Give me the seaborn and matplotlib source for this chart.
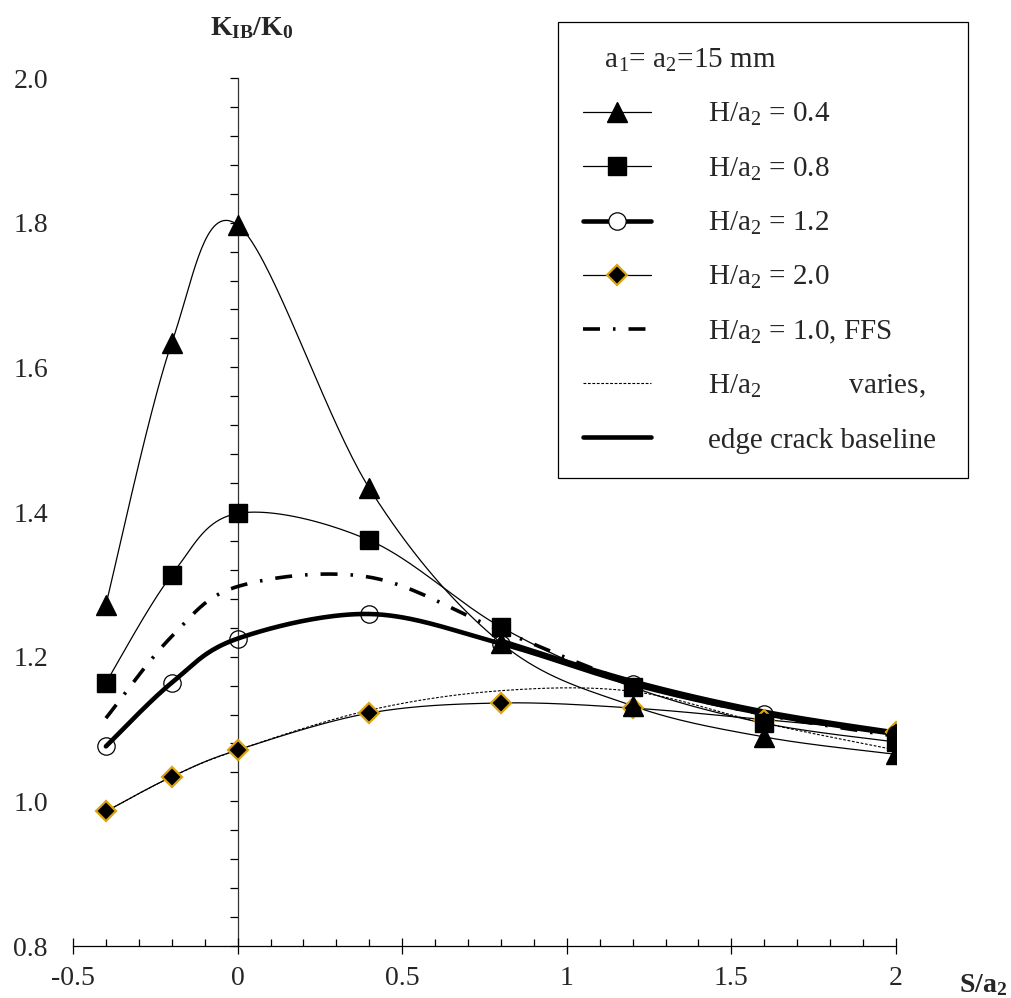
import matplotlib
matplotlib.use("Agg")

import numpy as np
import matplotlib.pyplot as plt
from matplotlib.lines import Line2D
from matplotlib.ticker import MultipleLocator, FuncFormatter
import seaborn as sns

# data
s_a2 = [-0.4, -0.2, 0.0, 0.4, 0.8, 1.2, 1.6, 2.0]
k_h04 = [1.272, 1.634, 1.797, 1.433, 1.219, 1.132, 1.089, 1.065]
k_h08 = [1.164, 1.313, 1.398, 1.361, 1.241, 1.158, 1.108, 1.082]
k_h12 = [1.076, 1.164, 1.225, 1.259, 1.218, 1.162, 1.121, 1.093]
k_h20 = [0.986, 1.034, 1.071, 1.122, 1.136, 1.129, 1.113, 1.096]
k_ffs = [1.115, 1.228, 1.297, 1.310, 1.236, 1.164, 1.120, 1.090]
k_varies = [0.986, 1.034, 1.071, 1.126, 1.153, 1.152, 1.108, 1.071]
s_base = [0.8, 1.2, 1.6, 2.0]
k_base = [1.222, 1.166, 1.124, 1.095]

sns.set_theme(style="white")
plt.rcParams["font.family"] = ["Liberation Serif", "DejaVu Serif"]
plt.rcParams["mathtext.fontset"] = "custom"
plt.rcParams["mathtext.rm"] = "Liberation Serif"
plt.rcParams["mathtext.it"] = "Liberation Serif:italic"
plt.rcParams["mathtext.bf"] = "Liberation Serif:bold"

# excel style smoothing (catmull-rom bezier in screen-ish units)
SX, SY = 330.0, 723.0


def smooth(x, y, n=40):
    p = np.column_stack([np.asarray(x) * SX, np.asarray(y) * SY])
    p = np.vstack([p[0], p, p[-1]])
    out = []
    for i in range(1, len(p) - 2):
        p0, p1, p2, p3 = p[i - 1], p[i], p[i + 1], p[i + 2]
        c1 = p1 + (p2 - p0) / 6.0
        c2 = p2 - (p3 - p1) / 6.0
        t = np.linspace(0, 1, n)[:, None]
        seg = ((1 - t) ** 3) * p1 + 3 * ((1 - t) ** 2) * t * c1 + 3 * (1 - t) * t ** 2 * c2 + t ** 3 * p2
        out.append(seg if i == 1 else seg[1:])
    out = np.vstack(out)
    return out[:, 0] / SX, out[:, 1] / SY


fig = plt.figure(figsize=(10.11, 9.98), dpi=100)
ax = fig.add_axes([0.0722, 0.0521, 0.814, 0.8697])

gold = "#DBA40E"
ffs_dash = (0, (4.7, 3.6, 0.7, 3.6))

curves = [
    (s_a2, k_varies, dict(color="black", lw=0.8, linestyle=(0, (2.5, 1.5)))),
    (s_a2, k_h20, dict(color="black", lw=0.9)),
    (s_a2, k_h04, dict(color="black", lw=0.9)),
    (s_a2, k_h08, dict(color="black", lw=0.9)),
    (s_base, k_base, dict(color="black", lw=3.3)),
    (s_a2, k_h12, dict(color="black", lw=3.3)),
    (s_a2, k_ffs, dict(color="black", lw=2.6, linestyle=ffs_dash)),
]
for xs, ys, kw in curves:
    cx, cy = smooth(xs, ys)
    sns.lineplot(x=cx, y=cy, sort=False, estimator=None, ax=ax, **kw)

ax.plot(s_a2, k_h20, linestyle="none", marker="D", ms=10, mfc="black", mec=gold, mew=1.6, zorder=5)
ax.plot(s_a2, k_h04, linestyle="none", marker="^", ms=14.5, color="black", zorder=5)
ax.plot(s_a2, k_h08, linestyle="none", marker="s", ms=13.5, color="black", zorder=5)
ax.plot(s_a2, k_h12, linestyle="none", marker="o", ms=12.5, mfc="none", mec="black", mew=0.9, zorder=6)

ax.set_xlim(-0.5, 2.0)
ax.set_ylim(0.8, 2.0)

for side in ["top", "right", "left"]:
    ax.spines[side].set_visible(False)
ax.spines["bottom"].set_color("black")
ax.spines["bottom"].set_linewidth(0.9)

ax.xaxis.set_major_locator(MultipleLocator(0.5))
ax.xaxis.set_minor_locator(MultipleLocator(0.1))
ax.xaxis.set_major_formatter(FuncFormatter(lambda v, p: f"{v:g}"))
ax.tick_params(axis="x", which="major", direction="inout", length=11.5, width=0.9,
               color="black", labelsize=20, pad=9, bottom=True)
ax.tick_params(axis="x", which="minor", direction="in", length=5, width=0.9,
               color="black", bottom=True)

ax.yaxis.set_major_locator(MultipleLocator(0.2))
ax.yaxis.set_major_formatter(FuncFormatter(lambda v, p: f"{v:.1f}"))
ax.tick_params(axis="y", which="both", length=0, labelsize=20, pad=18, left=True)

# the vertical axis line drawn at S/a2 = 0
vax = ax.secondary_yaxis(0.2)
vax.set_yticks(np.arange(0.8, 2.0001, 0.04))
vax.set_yticklabels([])
vax.tick_params(direction="out", length=6, width=0.9, color="black")
vax.spines["left"].set_color("#333333")
vax.spines["left"].set_linewidth(0.9)

fig.text(0.249, 0.972, r"$\mathbf{K_{IB}/K_0}$", fontsize=20, ha="center", va="center")
fig.text(0.972, 0.013, r"$\mathbf{S/a_2}$", fontsize=20, ha="center", va="center")

handles = [
    Line2D([], [], color="black", lw=0.9, marker="^", ms=14.5),
    Line2D([], [], color="black", lw=0.9, marker="s", ms=13.5),
    Line2D([], [], color="black", lw=3.3, marker="o", ms=12.5, mfc="white", mec="black", mew=0.9),
    Line2D([], [], color="black", lw=0.9, marker="D", ms=10, mfc="black", mec=gold, mew=1.6),
    Line2D([], [], color="black", lw=2.6, linestyle=ffs_dash),
    Line2D([], [], color="black", lw=0.8, linestyle=(0, (2.5, 1.5))),
    Line2D([], [], color="black", lw=3.3),
]
labels = [
    r"H/a$_2$ = 0.4",
    r"H/a$_2$ = 0.8",
    r"H/a$_2$ = 1.2",
    r"H/a$_2$ = 2.0",
    r"H/a$_2$ = 1.0, FFS",
    r"H/a$_2$            varies,",
    "edge crack baseline ",
]
leg = ax.legend(handles, labels, loc="upper left", bbox_to_anchor=(0.552, 0.978),
                bbox_transform=fig.transFigure, frameon=True, fancybox=False, shadow=False,
                fontsize=21, title="   a$_1$= a$_2$=15 mm", title_fontsize=21,
                alignment="left", handlelength=2.35, handletextpad=1.95, labelspacing=0.93,
                borderpad=0.85, borderaxespad=0, numpoints=1)
leg.get_frame().set_edgecolor("black")
leg.get_frame().set_linewidth(0.9)
leg.get_frame().set_facecolor("white")
leg.get_frame().set_alpha(1)

fig.savefig("out.png", dpi=100)
plt.close(fig)
